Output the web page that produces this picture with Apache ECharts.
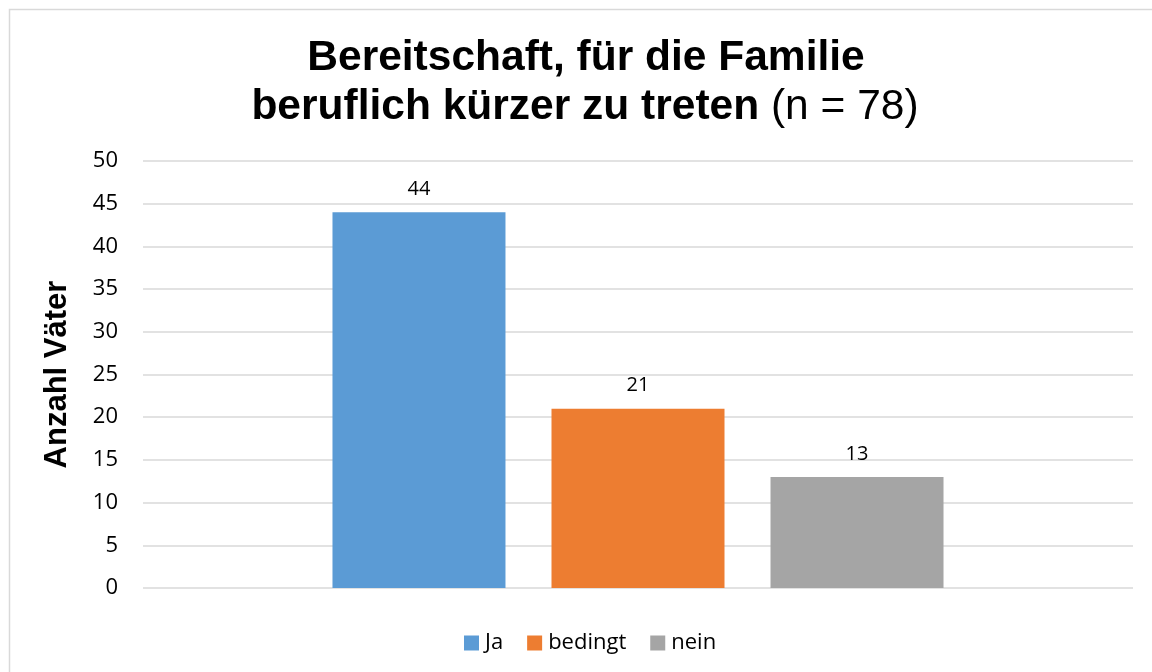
<!DOCTYPE html>
<html>
<head>
<meta charset="utf-8">
<script src="https://cdn.jsdelivr.net/npm/echarts@6/dist/echarts.min.js"></script>
<style>
  html, body { margin: 0; padding: 0; background: #fff; }
  #chart { width: 1152px; height: 672px; }
</style>
</head>
<body>
<div id="chart"></div>
<script>
const categories = ["Bereitschaft"];
const seriesNames = ["Ja", "bedingt", "nein"];
const seriesValues = [[44], [21], [13]];
const seriesColors = ["#5B9BD5", "#ED7D31", "#A5A5A5"];
const yTicks = [0, 50, 5];

const chart = echarts.init(document.getElementById("chart"));

const titleFont = "42.5px 'Liberation Sans', Arial, sans-serif";

const option = {
  animation: false,
  graphic: [
    // frame (only top and left edges fall inside the picture)
    {
      type: "rect",
      shape: { x: 9.5, y: 9.5, width: 1200, height: 700 },
      style: { fill: "none", stroke: "#D9D9D9", lineWidth: 1.5 },
    },
    {
      type: "text",
      x: 586,
      y: 58,
      style: {
        text: "Bereitschaft, für die Familie",
        font: "bold " + titleFont,
        fill: "#000",
        align: "center",
        verticalAlign: "middle",
      },
    },
    {
      type: "text",
      x: 585,
      y: 107,
      style: {
        text: "{b|beruflich kürzer zu treten }{n|(n = 78)}",
        align: "center",
        verticalAlign: "middle",
        rich: {
          b: { font: "bold " + titleFont, fill: "#000" },
          n: { font: titleFont, fill: "#000" },
        },
      },
    },
  ],
  legend: {
    data: seriesNames,
    bottom: 13,
    left: 459,
    itemWidth: 15,
    itemHeight: 15,
    itemGap: 24,
    icon: "rect",
    textStyle: { fontSize: 22, color: "#000", fontFamily: "Open Sans", padding: [0, 0, 0, 1] },
  },
  grid: { left: 143, right: 19, top: 161, bottom: 84 },
  xAxis: {
    type: "category",
    data: categories,
    axisLine: { show: false },
    axisTick: { show: false },
    axisLabel: { show: false },
  },
  yAxis: {
    type: "value",
    min: yTicks[0],
    max: yTicks[1],
    interval: yTicks[2],
    name: "Anzahl Väter",
    nameLocation: "middle",
    nameGap: 70,
    nameRotate: 90,
    nameTextStyle: {
      fontSize: 31,
      fontWeight: "bold",
      color: "#000",
      fontFamily: "'Liberation Sans', Arial, sans-serif",
    },
    axisLine: { show: false },
    axisTick: { show: false },
    axisLabel: { fontSize: 22, color: "#000", margin: 25, fontFamily: "Open Sans" },
    splitLine: { lineStyle: { color: "#D9D9D9", width: 1.5 } },
  },
  series: seriesNames.map((name, i) => ({
    name: name,
    type: "bar",
    data: seriesValues[i],
    barWidth: 173,
    barGap: "26.6%",
    itemStyle: { color: seriesColors[i] },
    label: {
      show: true,
      position: "top",
      distance: 13,
      fontSize: 20,
      color: "#000",
      fontFamily: "Open Sans",
    },
  })),
};

chart.setOption(option);
</script>
</body>
</html>
